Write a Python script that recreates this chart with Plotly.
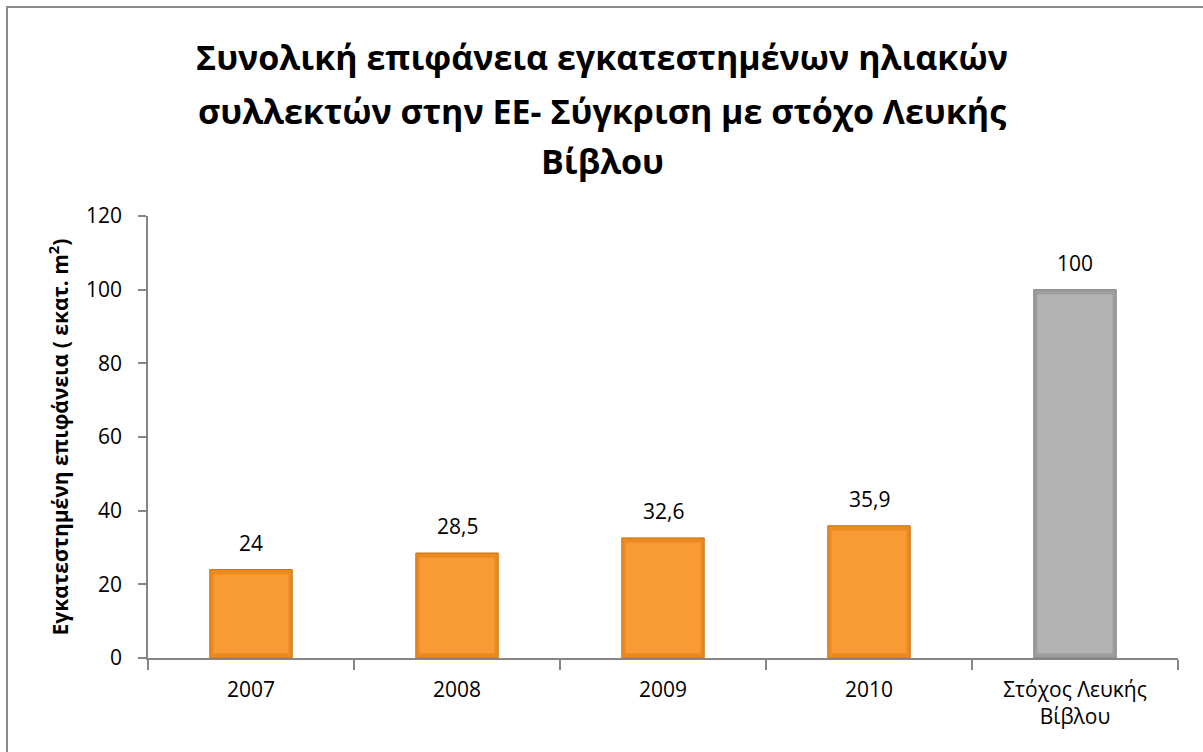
import plotly.graph_objects as go

categories = ["2007", "2008", "2009", "2010", "Στόχος Λευκής<br>Βίβλου"]
values = [24, 28.5, 32.6, 35.9, 100]
value_labels = ["24", "28,5", "32,6", "35,9", "100"]
outline_colors = ["#C96E10", "#C96E10", "#C96E10", "#C96E10", "#7E7E7E"]
edge_colors = ["#EA8A1F", "#EA8A1F", "#EA8A1F", "#EA8A1F", "#9D9D9D"]
face_colors = ["#F99B34", "#F99B34", "#F99B34", "#F99B34", "#B3B3B3"]
y_ticks = [0, 20, 40, 60, 80, 100, 120]
title_lines = [
    "Συνολική επιφάνεια εγκατεστημένων ηλιακών",
    "συλλεκτών στην ΕΕ- Σύγκριση με στόχο Λευκής",
    "Βίβλου",
]

FONT = "Open Sans"
BEVEL = 1.3  # bevel depth in axis units

fig = go.Figure()
# outer bar: darker rim of the bevelled column
fig.add_trace(go.Bar(
    x=categories,
    y=values,
    marker=dict(color=edge_colors, line=dict(color=outline_colors, width=1)),
    width=0.4,
    hoverinfo="x+y",
))
# inner face of the column
fig.add_trace(go.Bar(
    x=categories,
    y=[v - 2 * BEVEL for v in values],
    base=[BEVEL] * len(values),
    marker=dict(color=face_colors, line=dict(width=0)),
    width=0.365,
    hoverinfo="skip",
))

# plot area in pixels: x 148..1178, y 216..658
L, R, T, B = 148, 25, 216, 94
W, H = 1203 - L - R, 752 - T - B

def px_x(p):
    return (p - L) / W

def px_y(p):
    return (752 - B - p) / H

annotations = []
# value labels above the columns (category index as x position)
for i, (v, lab) in enumerate(zip(values, value_labels)):
    annotations.append(dict(
        x=i, y=v, xref="x", yref="y", text=lab, showarrow=False,
        yanchor="bottom", yshift=11,
        font=dict(family=FONT, size=21, color="#000000"),
    ))
# chart title, one annotation per line
for line, py in zip(title_lines, [57, 111, 161]):
    annotations.append(dict(
        x=px_x(602), y=px_y(py), xref="paper", yref="paper",
        text=f"<b>{line}</b>", showarrow=False,
        xanchor="center", yanchor="middle",
        font=dict(family=FONT, size=34, color="#000000"),
    ))

fig.update_layout(
    width=1203,
    height=752,
    margin=dict(l=L, r=R, t=T, b=B),
    paper_bgcolor="white",
    plot_bgcolor="white",
    showlegend=False,
    barmode="overlay",
    font=dict(family=FONT, color="#000000"),
    xaxis=dict(
        type="category",
        tickson="boundaries",
        ticks="outside",
        ticklen=10,
        tickcolor="#868686",
        tickwidth=1.5,
        showline=True,
        linecolor="#868686",
        linewidth=1.5,
        showgrid=False,
        ticklabelstandoff=12,
        tickfont=dict(family=FONT, size=21, color="#000000"),
    ),
    yaxis=dict(
        range=[0, 120],
        tickvals=y_ticks,
        ticks="outside",
        ticklen=8,
        tickcolor="#868686",
        tickwidth=1.5,
        showline=True,
        linecolor="#868686",
        linewidth=1.5,
        showgrid=False,
        zeroline=False,
        ticklabelstandoff=12,
        tickfont=dict(family=FONT, size=21, color="#000000"),
        title=dict(
            text="Εγκατεστημένη επιφάνεια ( εκατ. m<sup>2</sup>)",
            font=dict(family=FONT, size=21, color="#000000", weight="bold"),
            standoff=12,
        ),
    ),
    annotations=annotations,
    shapes=[dict(
        type="rect", xref="paper", yref="paper",
        x0=px_x(7), x1=px_x(1212), y0=px_y(761), y1=px_y(7),
        line=dict(color="#8C8C8C", width=2), fillcolor="rgba(0,0,0,0)",
        layer="below",
    )],
)

fig.write_html("out.html")
